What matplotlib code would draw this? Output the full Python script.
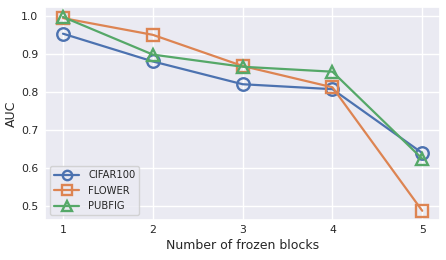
import matplotlib
matplotlib.use("Agg")
import matplotlib.pyplot as plt
import seaborn as sns

sns.set_theme(style="darkgrid")
plt.rcParams['font.family'] = ['DejaVu Sans']

blocks = [1, 2, 3, 4, 5]
cifar100 = [0.954, 0.881, 0.821, 0.808, 0.640]
flower = [0.995, 0.951, 0.869, 0.813, 0.488]
pubfig = [0.998, 0.899, 0.867, 0.854, 0.625]

colors = sns.color_palette("deep")

fig, ax = plt.subplots(figsize=(4.46, 2.6), dpi=100)
kw = dict(mfc="none", ms=9, mew=1.7, lw=1.6)
ax.plot(blocks, cifar100, marker="o", color=colors[0], label="CIFAR100", **kw)
ax.plot(blocks, flower, marker="s", color=colors[1], label="FLOWER", **kw)
ax.plot(blocks, pubfig, marker="^", color=colors[2], label="PUBFIG", **kw)
ax.set_xticks(blocks)
ax.set_xlabel("Number of frozen blocks", fontsize=9, labelpad=2.5)
ax.set_ylabel("AUC", fontsize=9, labelpad=2)
ax.tick_params(axis="x", labelsize=7.8, length=0, pad=3.5)
ax.tick_params(axis="y", labelsize=7.8, length=0, pad=4.8)
ax.legend(loc="lower left", fontsize=7.2, markerscale=0.75, handlelength=2.5,
          handletextpad=0.9, labelspacing=0.55)
fig.subplots_adjust(left=0.101, right=0.987, top=0.972, bottom=0.152)
fig.savefig("out.png", dpi=100)
